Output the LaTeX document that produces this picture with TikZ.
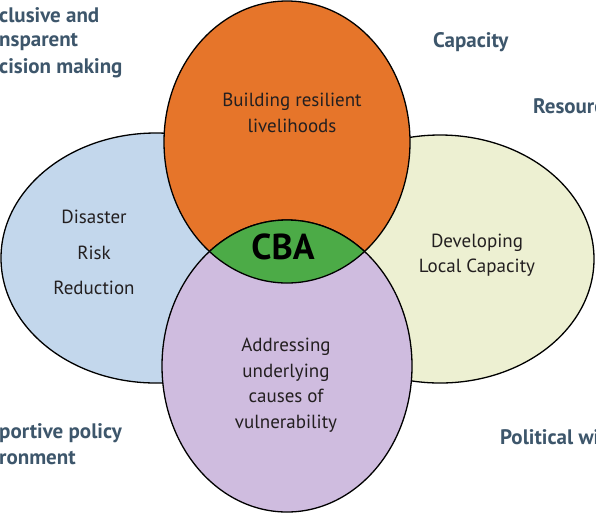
\documentclass[tikz,border=0pt]{standalone}
\usepackage{fontspec}
\setmainfont{PT Sans}
\definecolor{cOrange}{HTML}{E6752A}
\definecolor{cBlue}{HTML}{C3D7EC}
\definecolor{cYellow}{HTML}{EDF0D2}
\definecolor{cPurple}{HTML}{CFBCDF}
\definecolor{cGreen}{HTML}{4CAB47}
\definecolor{cLabel}{HTML}{3D566B}
\definecolor{cText}{HTML}{231F20}
\begin{document}
\begin{tikzpicture}[x=1pt,y=-1pt,
  outline/.style={draw=black,line width=1.3pt},
  body/.style={text=cText,font=\fontsize{19}{25.5}\selectfont,align=center,inner sep=0pt},
  outer/.style={text=cLabel,font=\bfseries\fontsize{21}{26}\selectfont,align=left,inner sep=0pt,anchor=west}]
\useasboundingbox (0,0) rectangle (596,515);
\begin{scope}
\clip (0,0) rectangle (596,515);
% side ellipses
\fill[cBlue] (156,258) ellipse [x radius=155pt, y radius=125pt];
\draw[outline] (156,258) ellipse [x radius=155pt, y radius=125pt];
\fill[cYellow] (440,259) ellipse [x radius=154pt, y radius=124pt];
\draw[outline] (440,259) ellipse [x radius=154pt, y radius=124pt];
% top and bottom ellipses
\fill[cOrange] (287,142) ellipse [x radius=123pt, y radius=141pt];
\draw[outline] (287,142) ellipse [x radius=123pt, y radius=141pt];
\fill[cPurple] (287,366) ellipse [x radius=125pt, y radius=146pt];
\draw[outline] (287,366) ellipse [x radius=125pt, y radius=146pt];
% lens
\begin{scope}
\clip (287,142) ellipse [x radius=123pt, y radius=141pt];
\fill[cGreen] (287,366) ellipse [x radius=125pt, y radius=146pt];
\draw[outline] (287,366) ellipse [x radius=125pt, y radius=146pt];
\end{scope}
\begin{scope}
\clip (287,366) ellipse [x radius=125pt, y radius=146pt];
\draw[outline] (287,142) ellipse [x radius=123pt, y radius=141pt];
\end{scope}
% outer labels
\node[outer] (l1) at (-1,15) {clusive and};
\node[outer] (l2) at (-1,42) {nsparent};
\node[outer] (l3) at (-1,68) {cision making};
\node[outer] (l4) at (433,42) {Capacity};
\node[outer] (l5) at (533,106) {Resourc};
\node[outer] (l6) at (-1,433) {portive policy};
\node[outer] (l7) at (-1,458) {ronment};
\node[outer] (l8) at (500,437) {Political wi};
\end{scope}
% inner labels
\node[body] (t1) at (292,113) {Building resilient\\livelihoods};
\node[body] (t2) at (94,217) {Disaster};
\node[body] (t3) at (94,253) {Risk};
\node[body] (t4) at (94,288) {Reduction};
\node[body] (t5) at (477,255) {Developing\\Local Capacity};
\node[body] (t6) at (286,385) {Addressing\\underlying\\causes of\\vulnerability};
\node[text=black,font=\bfseries\fontsize{36}{40}\selectfont,inner sep=0pt] (cba) at (283,247) {CBA};
\end{tikzpicture}
\end{document}
